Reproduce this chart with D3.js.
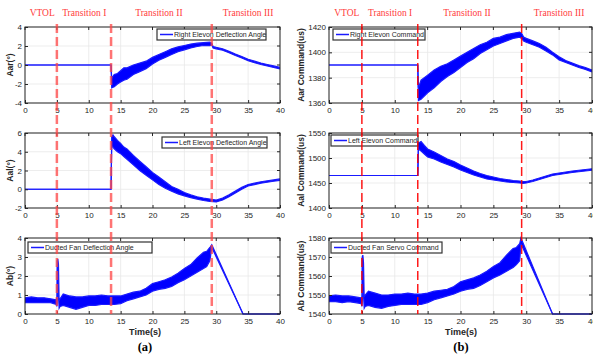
<!DOCTYPE html>
<html>
<head>
<meta charset="utf-8">
<script src="https://cdn.jsdelivr.net/npm/d3@7"></script>
<style>
  body { margin: 0; background: #fff; }
  svg { display: block; font-family: "Liberation Sans", Arial, sans-serif; }
</style>
</head>
<body>
<svg id="chart" width="593" height="358"></svg>
<script>
// time ticks and phase markers
const timeTicks = [0, 5, 10, 15, 20, 25, 30, 35, 40];
const phaseLines = [5, 13.5, 29.3];
const phaseNames = ["VTOL", "Transition I", "Transition II", "Transition III"];
const phaseCenters = [2.7, 9.3, 21, 35];

// right elevon deflection angle (deg), envelope of the noisy trace
const aarT  = [0, 13.5, 13.6, 14, 14.5, 15, 15.5, 16, 17, 18, 19, 20, 21, 22, 23, 24, 25, 26, 27, 28, 29, 29.3, 29.5, 30, 31, 32, 33, 34, 35, 36, 37, 38, 39, 40];
const aarLo = [0, 0, -2.4, -2.3, -2.0, -1.8, -1.6, -1.5, -1.0, -0.7, -0.4, 0.1, 0.5, 0.8, 1.1, 1.4, 1.6, 1.8, 1.95, 2.05, 2.05, 2.1, 1.8, 1.7, 1.55, 1.3, 1.0, 0.75, 0.45, 0.25, 0.05, -0.1, -0.25, -0.4];
const aarHi = [0, 0, -1.4, -1.0, -0.9, -0.6, -0.3, -0.3, 0.0, 0.2, 0.4, 0.8, 1.1, 1.4, 1.7, 1.9, 2.05, 2.2, 2.3, 2.35, 2.4, 2.3, 1.95, 1.85, 1.7, 1.45, 1.15, 0.9, 0.6, 0.4, 0.2, 0.05, -0.1, -0.25];

// left elevon deflection angle (deg)
const aalT  = [0, 13.5, 13.6, 13.8, 14, 14.5, 15, 15.5, 16, 17, 18, 19, 20, 21, 22, 23, 24, 25, 26, 27, 28, 29, 30, 31, 32, 33, 34, 35, 36, 37, 38, 39, 40];
const aalLo = [0, 0, 4.6, 4.5, 4.3, 4.0, 3.8, 3.5, 3.2, 2.6, 2.0, 1.5, 1.0, 0.5, 0.1, -0.2, -0.5, -0.7, -0.9, -1.05, -1.2, -1.3, -1.35, -1.15, -0.8, -0.4, 0.0, 0.35, 0.5, 0.65, 0.75, 0.85, 0.95];
const aalHi = [0, 0, 5.6, 5.8, 5.6, 5.2, 4.9, 4.5, 4.3, 3.6, 3.0, 2.4, 1.8, 1.3, 0.8, 0.3, 0.0, -0.35, -0.6, -0.8, -0.95, -1.05, -1.15, -0.95, -0.6, -0.2, 0.2, 0.5, 0.65, 0.8, 0.9, 1.0, 1.1];

// ducted fan deflection angle (deg)
const abT  = [0, 1, 2, 3, 4, 4.9, 5.0, 5.05, 5.15, 5.25, 5.35, 5.5, 6, 7, 8, 9, 10, 11, 12, 13, 14, 15, 16, 17, 18, 19, 20, 21, 22, 23, 24, 25, 26, 27, 28, 28.5, 29, 29.3, 34.2, 40];
const abLo = [0.6, 0.6, 0.6, 0.6, 0.6, 0.5, 0.4, 0.5, 1.2, 1.0, 0.3, 0.4, 0.45, 0.35, 0.25, 0.35, 0.45, 0.45, 0.5, 0.5, 0.5, 0.55, 0.7, 0.8, 0.9, 1.0, 1.2, 1.3, 1.35, 1.45, 1.65, 1.8, 2.0, 2.2, 2.4, 2.5, 2.8, 3.5, 0, 0];
const abHi = [0.85, 0.9, 0.85, 0.85, 0.8, 0.75, 0.9, 2.8, 2.9, 2.6, 0.7, 0.8, 1.05, 0.95, 0.9, 0.9, 0.95, 0.95, 1.0, 0.95, 0.95, 0.95, 1.05, 1.15, 1.2, 1.35, 1.6, 1.7, 1.8, 1.95, 2.15, 2.4, 2.6, 2.95, 3.25, 3.3, 3.5, 3.65, 0, 0];

// right elevon command (us)
const carT  = [0, 13.5, 13.6, 14, 15, 16, 17, 18, 19, 20, 21, 22, 23, 24, 25, 26, 27, 28, 29, 29.3, 29.6, 30, 31, 32, 33, 34, 35, 36, 37, 38, 39, 40];
const carLo = [1390, 1390, 1362, 1363, 1368, 1372, 1377, 1381, 1384, 1388, 1392, 1395, 1399, 1402, 1405, 1407, 1409, 1411, 1412, 1411, 1409, 1408, 1406, 1404, 1401, 1398, 1394, 1392, 1390, 1388, 1386.5, 1384.5];
const carHi = [1390, 1390, 1372, 1378, 1382, 1386, 1389, 1391, 1394, 1397, 1400, 1403, 1406, 1408, 1411, 1412, 1414, 1415, 1416, 1415, 1412, 1411, 1409, 1407, 1404, 1400, 1396.5, 1393.5, 1391.5, 1389.5, 1388, 1386];

// left elevon command (us)
const calT  = [0, 13.5, 13.6, 14, 14.5, 15, 16, 17, 18, 19, 20, 21, 22, 23, 24, 25, 26, 27, 28, 29, 29.5, 30, 31, 32, 33, 34, 35, 36, 37, 38, 39, 40];
const calLo = [1465, 1465, 1518, 1514, 1508, 1502, 1498, 1492, 1487, 1482, 1476, 1471, 1466, 1462, 1458, 1456, 1454, 1452, 1451, 1450, 1449, 1450, 1453, 1457, 1461, 1465, 1467, 1469, 1471, 1472.5, 1474, 1475.5];
const calHi = [1465, 1465, 1530, 1533, 1525, 1518, 1512, 1505, 1498, 1493, 1486, 1480, 1474, 1469, 1465, 1462, 1459, 1457, 1455, 1454, 1453, 1453, 1456, 1460, 1464, 1468, 1470, 1472, 1474, 1475.5, 1477, 1478.5];

// ducted fan servo command (us)
const cbT  = [0, 1, 2, 3, 4, 4.9, 5.0, 5.05, 5.15, 5.25, 5.35, 5.5, 6, 7, 8, 9, 10, 11, 12, 13, 14, 15, 16, 17, 18, 19, 20, 21, 22, 23, 24, 25, 26, 27, 28, 28.5, 29, 29.2, 34.0, 40];
const cbLo = [1546.5, 1546.5, 1546, 1546.5, 1546, 1545.5, 1544, 1546, 1552, 1550, 1543, 1544, 1544.5, 1543.5, 1543, 1544, 1544.5, 1545, 1545, 1545, 1545, 1546, 1547.5, 1548.5, 1549.5, 1550.5, 1552, 1553, 1553.5, 1555, 1557, 1559, 1560.5, 1562.5, 1564.5, 1566, 1568, 1577, 1540, 1540];
const cbHi = [1549.5, 1550, 1549.5, 1549.5, 1549, 1548.5, 1549, 1570, 1571, 1567, 1549, 1550, 1552, 1551, 1550, 1550, 1550.5, 1550.5, 1551, 1550.5, 1550.5, 1551, 1552, 1552.5, 1553, 1554.5, 1557, 1558, 1559, 1560.5, 1562.5, 1565, 1567, 1571, 1574.5, 1575, 1577, 1580, 1540, 1540];

const svg = d3.select("#chart");
const rows = [{top: 27, bottom: 103}, {top: 133, bottom: 208}, {top: 238, bottom: 314}];
const cols = [
  {left: 25, right: 280, labelX: 11, dash: "rgba(255,70,70,0.75)", dashW: 2.5, tag: "(a)", midX: 145},
  {left: 329, right: 592, labelX: 302, dash: "rgba(255,0,0,0.9)", dashW: 1.5, tag: "(b)", midX: 461}
];

const panels = [
  {col: 0, row: 0, t: aarT, lo: aarLo, hi: aarHi, dom: [-4, 4], ticks: [-4, -2, 0, 2, 4], ylab: "Aar(°)", leg: "Right Elevon Deflection Angle", lx: 157, ly: 29, lw: 109},
  {col: 0, row: 1, t: aalT, lo: aalLo, hi: aalHi, dom: [-2, 6], ticks: [-2, 0, 2, 4, 6], ylab: "Aal(°)", leg: "Left Elevon Deflection Angle", lx: 162, ly: 137, lw: 105},
  {col: 0, row: 2, t: abT, lo: abLo, hi: abHi, dom: [0, 4], ticks: [0, 1, 2, 3, 4], ylab: "Ab(°)", leg: "Ducted Fan Deflection Angle", lx: 28, ly: 242, lw: 124},
  {col: 1, row: 0, t: carT, lo: carLo, hi: carHi, dom: [1360, 1420], ticks: [1360, 1380, 1400, 1420], ylab: "Aar Command(us)", leg: "Right Elevon Command", lx: 333, ly: 29, lw: 92},
  {col: 1, row: 1, t: calT, lo: calLo, hi: calHi, dom: [1400, 1550], ticks: [1400, 1450, 1500, 1550], ylab: "Aal Command(us)", leg: "Left Elevon Command", lx: 331, ly: 135, lw: 87},
  {col: 1, row: 2, t: cbT, lo: cbLo, hi: cbHi, dom: [1540, 1580], ticks: [1540, 1550, 1560, 1570, 1580], ylab: "Ab Command(us)", leg: "Ducted Fan Servo Command", lx: 331, ly: 242, lw: 111}
];

panels.forEach(p => {
  const c = cols[p.col], r = rows[p.row];
  const x = d3.scaleLinear().domain([0, 40]).range([c.left, c.right]);
  const y = d3.scaleLinear().domain(p.dom).range([r.bottom, r.top]);
  const g = svg.append("g");

  // grid
  g.selectAll(".gx").data(timeTicks).join("line")
    .attr("x1", d => x(d)).attr("x2", d => x(d))
    .attr("y1", r.top).attr("y2", r.bottom)
    .attr("stroke", "#e8e8e8").attr("stroke-width", 0.8);
  g.selectAll(".gy").data(p.ticks).join("line")
    .attr("x1", c.left).attr("x2", c.right)
    .attr("y1", d => y(d)).attr("y2", d => y(d))
    .attr("stroke", "#e8e8e8").attr("stroke-width", 0.8);

  // data band (min/max of the noisy trace)
  const pts = p.t.map((t, i) => ({t: t, lo: p.lo[i], hi: p.hi[i]}));
  g.append("path").datum(pts)
    .attr("d", d3.area().x(d => x(d.t)).y0(d => y(d.lo)).y1(d => y(d.hi)))
    .attr("fill", "#0000ff");
  ["lo", "hi"].forEach(k => {
    g.append("path").datum(pts)
      .attr("d", d3.line().x(d => x(d.t)).y(d => y(d[k])))
      .attr("fill", "none").attr("stroke", "#1a1aff").attr("stroke-width", 1.2);
  });

  // axes
  const ax = g.append("g").attr("transform", `translate(0,${r.bottom})`)
    .call(d3.axisBottom(x).tickValues(timeTicks).tickFormat(d => d).tickSize(-3).tickPadding(4));
  const ay = g.append("g").attr("transform", `translate(${c.left},0)`)
    .call(d3.axisLeft(y).tickValues(p.ticks).tickFormat(d => d).tickSize(-3).tickPadding(3));
  [ax, ay].forEach(a => {
    a.select(".domain").remove();
    a.selectAll("line").attr("stroke", "#262626");
    a.selectAll("text").attr("fill", "#262626").style("font-size", "8px");
  });
  // right/top ticks
  g.selectAll(".tt").data(timeTicks).join("line")
    .attr("x1", d => x(d)).attr("x2", d => x(d))
    .attr("y1", r.top).attr("y2", r.top + 3).attr("stroke", "#262626");
  g.selectAll(".tr").data(p.ticks).join("line")
    .attr("x1", c.right).attr("x2", c.right - 3)
    .attr("y1", d => y(d)).attr("y2", d => y(d)).attr("stroke", "#262626");
  g.append("rect").attr("x", c.left).attr("y", r.top)
    .attr("width", c.right - c.left).attr("height", r.bottom - r.top)
    .attr("fill", "none").attr("stroke", "#262626").attr("stroke-width", 1);

  // y label
  g.append("text")
    .attr("transform", `translate(${c.labelX},${(r.top + r.bottom) / 2}) rotate(-90)`)
    .attr("text-anchor", "middle").attr("dominant-baseline", "middle")
    .style("font-size", "8.5px").style("font-weight", "bold").attr("fill", "#262626")
    .text(p.ylab);

  // legend
  const lg = g.append("g").attr("transform", `translate(${p.lx},${p.ly})`);
  lg.append("rect").attr("width", p.lw).attr("height", 11)
    .attr("fill", "#fff").attr("stroke", "#333").attr("stroke-width", 1.2);
  lg.append("line").attr("x1", 3).attr("x2", 16).attr("y1", 5.5).attr("y2", 5.5)
    .attr("stroke", "#1a1aff").attr("stroke-width", 1.5);
  lg.append("text").attr("x", 17).attr("y", 5.8).attr("dominant-baseline", "middle")
    .style("font-size", "7px").attr("fill", "#262626").text(p.leg);
});

// phase dashed lines and labels
cols.forEach(c => {
  const x = d3.scaleLinear().domain([0, 40]).range([c.left, c.right]);
  svg.selectAll(null).data(phaseLines).join("line")
    .attr("x1", d => x(d)).attr("x2", d => x(d))
    .attr("y1", 24).attr("y2", 314)
    .attr("stroke", c.dash).attr("stroke-width", c.dashW)
    .attr("stroke-dasharray", "9,4");
  svg.selectAll(null).data(phaseNames).join("text")
    .attr("x", (d, i) => x(phaseCenters[i])).attr("y", 14)
    .attr("text-anchor", "middle").attr("dominant-baseline", "middle")
    .style("font-family", "'Liberation Serif', 'Times New Roman', serif")
    .style("font-size", "9.5px").attr("fill", "#ff3b3b")
    .text(d => d);
  svg.append("text").attr("x", c.midX).attr("y", 333)
    .attr("text-anchor", "middle").attr("dominant-baseline", "middle")
    .style("font-size", "9px").style("font-weight", "bold").attr("fill", "#262626")
    .text("Time(s)");
  svg.append("text").attr("x", c.midX).attr("y", 348)
    .attr("text-anchor", "middle").attr("dominant-baseline", "middle")
    .style("font-family", "'Liberation Serif', 'Times New Roman', serif")
    .style("font-size", "12.5px").style("font-weight", "bold").attr("fill", "#000")
    .text(c.tag);
});
</script>
</body>
</html>
